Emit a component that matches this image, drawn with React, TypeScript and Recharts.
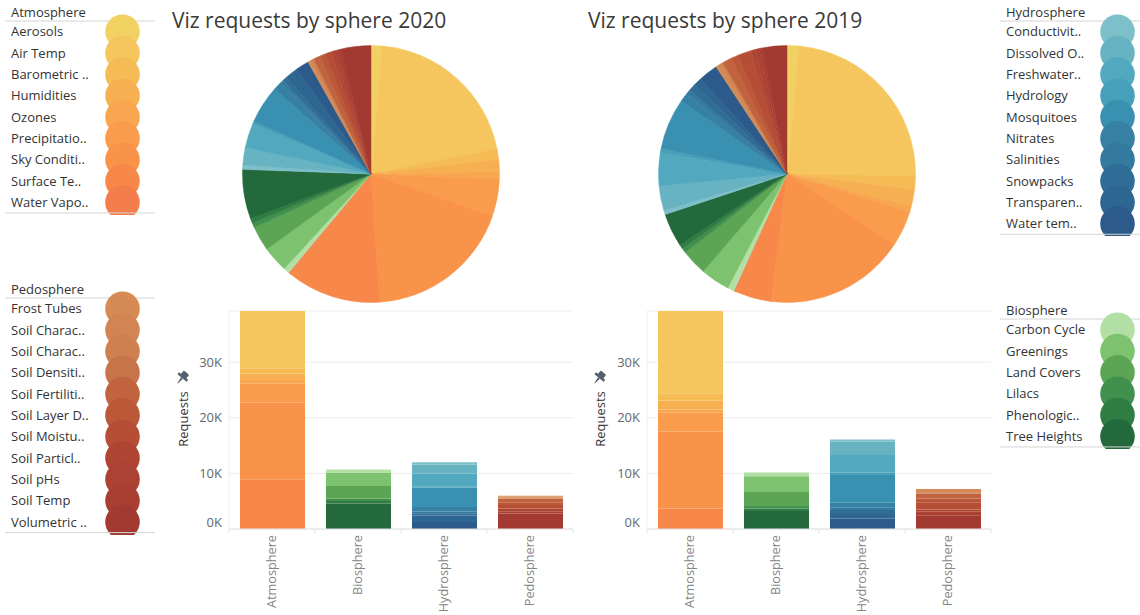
import React from 'react';
import { BarChart, Bar, XAxis, YAxis, CartesianGrid, PieChart, Pie, Cell } from 'recharts';

const spheres = ['Atmosphere', 'Biosphere', 'Hydrosphere', 'Pedosphere'];

// legend labels, as Tableau shows them (truncated)
const atmosphereLabels = ['Aerosols', 'Air Temp', 'Barometric ..', 'Humidities', 'Ozones', 'Precipitatio..', 'Sky Conditi..', 'Surface Te..', 'Water Vapo..'];
const biosphereLabels = ['Carbon Cycle', 'Greenings', 'Land Covers', 'Lilacs', 'Phenologic..', 'Tree Heights'];
const hydrosphereLabels = ['Conductivit..', 'Dissolved O..', 'Freshwater..', 'Hydrology', 'Mosquitoes', 'Nitrates', 'Salinities', 'Snowpacks', 'Transparen..', 'Water tem..'];
const pedosphereLabels = ['Frost Tubes', 'Soil Charac..', 'Soil Charac..', 'Soil Densiti..', 'Soil Fertiliti..', 'Soil Layer D..', 'Soil Moistu..', 'Soil Particl..', 'Soil pHs', 'Soil Temp', 'Volumetric ..'];

const atmosphereColors = ['#F2D163', '#F4C65D', '#F5BB55', '#F6B052', '#F8A64F', '#F99C4B', '#FA934A', '#F7884A', '#F47E4B'];
const biosphereColors = ['#B2DFA4', '#7DC36F', '#5CA554', '#42904D', '#2F7D43', '#23693C'];
const hydrosphereColors = ['#7EC0CA', '#67B3C1', '#52A8BF', '#46A0BA', '#3A90B0', '#3580A3', '#337A9E', '#306D96', '#2E6692', '#2C5A8A'];
const pedosphereColors = ['#D58B53', '#D28453', '#CF8050', '#C8744A', '#C0633E', '#BA5838', '#B54E35', '#B04533', '#AC4233', '#A93E33', '#A33A32'];

// requests 2020
const atmosphere2020 = [1000, 15100, 1000, 1100, 700, 3400, 13750, 8800, 150];
const biosphere2020 = [540, 2400, 2280, 450, 450, 4570];
const hydrosphere2020 = [400, 1600, 2300, 250, 3500, 800, 300, 400, 1200, 1250];
const pedosphere2020 = [200, 150, 150, 100, 600, 500, 600, 300, 300, 300, 2800];

// requests 2019
const atmosphere2019 = [1150, 18400, 1300, 1600, 600, 3400, 13800, 3500, 200];
const biosphere2019 = [650, 2850, 2500, 450, 450, 3250];
const hydrosphere2019 = [400, 2400, 3200, 400, 5000, 900, 400, 700, 800, 1900];
const pedosphere2019 = [350, 200, 150, 100, 900, 700, 1300, 400, 400, 300, 2400];

const yTicks = [0, 10000, 20000, 30000];

const sphereLabels = [atmosphereLabels, biosphereLabels, hydrosphereLabels, pedosphereLabels];
const sphereColors = [atmosphereColors, biosphereColors, hydrosphereColors, pedosphereColors];
const values2020 = [atmosphere2020, biosphere2020, hydrosphere2020, pedosphere2020];
const values2019 = [atmosphere2019, biosphere2019, hydrosphere2019, pedosphere2019];

const FONT = '"Open Sans", sans-serif';

function buildRows(values: number[][]) {
  return spheres.map((sphere, s) => {
    const row: Record<string, any> = { sphere };
    sphereLabels.forEach((labels, t) =>
      labels.forEach((_, i) => {
        row[`k${t}_${i}`] = t === s ? values[t][i] : 0;
      })
    );
    return row;
  });
}

function buildSlices(values: number[][]) {
  const out: { name: string; value: number; fill: string }[] = [];
  sphereLabels.forEach((labels, t) =>
    labels.forEach((name, i) => out.push({ name, value: values[t][i], fill: sphereColors[t][i] }))
  );
  return out;
}

const CategoryTick = (props: any) => {
  const { x, y, payload } = props;
  const half = payload?.offset || 43;
  const last = payload?.index === spheres.length - 1;
  return (
    <g>
      <line x1={x - half} x2={x - half} y1={y} y2={y + 4} stroke="#e3e3e3" />
      {last && <line x1={x + half} x2={x + half} y1={y} y2={y + 4} stroke="#e3e3e3" />}
      <text
        transform={`translate(${x},${y + 6}) rotate(-90)`}
        textAnchor="end"
        dy="0.35em"
        fontSize={12.7}
        fontFamily={FONT}
        fill="#858585"
      >
        {payload.value}
      </text>
    </g>
  );
};

const ValueTick = (props: any) => {
  const { x, y, payload } = props;
  const shift = payload.value === 0 ? -7 : 0;
  return (
    <text x={x - 7} y={y + shift} dy="0.35em" textAnchor="end" fontSize={13} fontFamily={FONT} fill="#666">
      {`${payload.value / 1000}K`}
    </text>
  );
};

function StackedBars({ values, left, top }: { values: number[][]; left: number; top: number }) {
  const rows = buildRows(values);
  return (
    <div style={{ position: 'absolute', left, top, width: 418, height: 315, overflow: 'hidden' }}>
      <BarChart width={418} height={330} data={rows} margin={{ top: 11, right: 5, left: 0, bottom: 0 }} barSize={65}>
        <CartesianGrid vertical={false} stroke="#ececec" />
        <XAxis
          dataKey="sphere"
          height={101}
          interval={0}
          tickSize={0}
          tickMargin={0}
          tickLine={false}
          axisLine={{ stroke: '#e3e3e3' }}
          tick={<CategoryTick />}
        />
        <YAxis
          width={69}
          domain={[0, 39200]}
          allowDataOverflow
          ticks={yTicks}
          tickSize={0}
          tickMargin={0}
          tickLine={false}
          axisLine={{ stroke: '#f0f0f0' }}
          tick={<ValueTick />}
        />
        {sphereLabels.map((labels, t) =>
          labels
            .map((_, i) => i)
            .reverse()
            .map((i) => (
              <Bar
                key={`k${t}_${i}`}
                dataKey={`k${t}_${i}`}
                stackId="s"
                fill={sphereColors[t][i]}
                isAnimationActive={false}
              />
            ))
        )}
      </BarChart>
    </div>
  );
}

function AxisTitle({ left, top }: { left: number; top: number }) {
  return (
    <svg style={{ position: 'absolute', left, top }} width={24} height={110}>
      <g transform="translate(12,14) rotate(40)" fill="#55606e">
        <rect x={-3.5} y={-7} width={7} height={5} rx={1} />
        <rect x={-6} y={-2.5} width={12} height={2.5} rx={0.5} />
        <path d="M -1.2 0 L 1.2 0 L 0.3 7 L -0.3 7 Z" />
      </g>
      <text
        transform="translate(13,55) rotate(-90)"
        textAnchor="middle"
        dy="0.35em"
        fontSize={13}
        fontFamily={FONT}
        fill="#333"
      >
        Requests
      </text>
    </svg>
  );
}

function SpherePie({ values, cx, cy }: { values: number[][]; cx: number; cy: number }) {
  const slices = buildSlices(values);
  return (
    <div style={{ position: 'absolute', left: cx - 140, top: cy - 140 }}>
      <PieChart width={280} height={280} margin={{ top: 0, right: 0, bottom: 0, left: 0 }}>
        <Pie
          data={slices}
          dataKey="value"
          nameKey="name"
          cx="50%"
          cy="50%"
          outerRadius={128.5}
          startAngle={90}
          endAngle={-270}
          isAnimationActive={false}
        >
          {slices.map((s, i) => (
            <Cell key={i} fill={s.fill} stroke={s.fill} strokeWidth={0.5} />
          ))}
        </Pie>
      </PieChart>
    </div>
  );
}

function ColorLegend({
  title,
  labels,
  colors,
  left,
  top,
  width,
}: {
  title: string;
  labels: string[];
  colors: string[];
  left: number;
  top: number;
  width: number;
}) {
  const rowH = 21.33;
  const first = 31.7;
  const bottom = first + (labels.length - 1) * rowH + 10.6;
  return (
    <svg style={{ position: 'absolute', left, top }} width={width} height={bottom + 2}>
      <text x={11} y={12} dy="0.35em" fontSize={13} fontFamily={FONT} fill="#333">
        {title}
      </text>
      <line x1={5} x2={width} y1={21} y2={21} stroke="#d4d4d4" />
      {labels.map((label, i) => (
        <g key={i}>
          <circle cx={122.5} cy={first + i * rowH} r={17.3} fill={colors[i]} />
          <text x={11} y={first + i * rowH} dy="0.35em" fontSize={13} fontFamily={FONT} fill="#333">
            {label}
          </text>
        </g>
      ))}
      <line x1={5} x2={width} y1={bottom} y2={bottom} stroke="#d4d4d4" />
    </svg>
  );
}

export default function App() {
  return (
    <div
      style={{
        position: 'absolute',
        left: 0,
        top: 0,
        width: 1140,
        height: 615,
        background: '#fff',
        overflow: 'hidden',
        fontFamily: FONT,
      }}
    >
      <ColorLegend title="Atmosphere" labels={atmosphereLabels} colors={atmosphereColors} left={0} top={0} width={155} />
      <ColorLegend title="Pedosphere" labels={pedosphereLabels} colors={pedosphereColors} left={0} top={277} width={155} />
      <ColorLegend title="Hydrosphere" labels={hydrosphereLabels} colors={hydrosphereColors} left={995} top={0} width={145} />
      <ColorLegend title="Biosphere" labels={biosphereLabels} colors={biosphereColors} left={995} top={298} width={145} />

      <div style={{ position: 'absolute', left: 172, top: 5, fontSize: 21, color: '#3a3a3a', lineHeight: '30px' }}>
        Viz requests by sphere 2020
      </div>
      <div style={{ position: 'absolute', left: 588, top: 5, fontSize: 21, color: '#3a3a3a', lineHeight: '30px' }}>
        Viz requests by sphere 2019
      </div>

      <SpherePie values={values2020} cx={370.7} cy={174.2} />
      <SpherePie values={values2019} cx={787} cy={174.3} />

      <StackedBars values={values2020} left={160} top={300} />
      <StackedBars values={values2019} left={578} top={300} />

      <AxisTitle left={170} top={364} />
      <AxisTitle left={587} top={364} />
    </div>
  );
}
